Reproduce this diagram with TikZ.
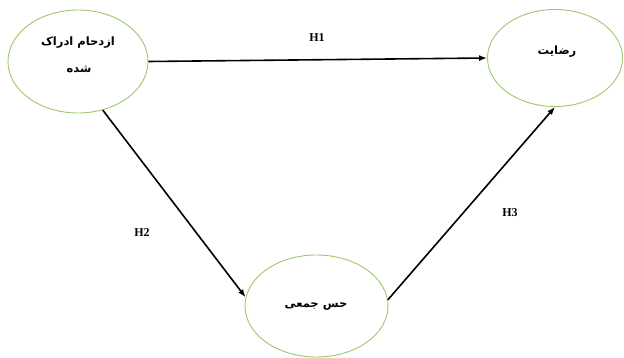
\documentclass[tikz,border=0pt]{standalone}
\usepackage{fontspec}
\setmainfont{Liberation Serif}
\newfontfamily\farsifont[Script=Arabic]{DejaVu Sans}
\TeXXeTstate=1
\usetikzlibrary{shapes.geometric,arrows.meta}
\definecolor{ellgreen}{RGB}{155,200,110}
\tikzset{
  construct/.style={ellipse,draw=ellgreen,line width=0.9pt,inner sep=0pt},
  fatext/.style={font=\farsifont\bfseries\fontsize{11.5}{13}\selectfont,inner sep=0pt},
  hlabel/.style={font=\bfseries\fontsize{12}{14}\selectfont,inner sep=0pt},
  arr/.style={line width=1.6pt,-{Latex[length=8pt,width=6pt]}}
}
\begin{document}
\begin{tikzpicture}[x=1pt,y=-1pt]
\useasboundingbox (0,0) rectangle (624,358);
\node[construct,minimum width=140pt,minimum height=103pt] (e1) at (78,61.5) {};
\node[construct,minimum width=135pt,minimum height=97pt] (e2) at (555,58) {};
\node[construct,minimum width=143pt,minimum height=102pt] (e3) at (316.5,306) {};
\node[fatext] (t1a) at (78,43) {\beginR ازدحام ادراک\endR};
\node[fatext] (t1b) at (79,69) {\beginR شده\endR};
\node[fatext] (t2) at (557,52) {\beginR رضایت\endR};
\node[fatext] (t3) at (316,307) {\beginR حس جمعی\endR};
\draw[arr] (e1.east) -- (e2.west);
\draw[arr] (e1.297) -- (e3.173);
\draw[arr] (e3.5) -- (e2.south);
\node[hlabel] (h1) at (317,38) {H1};
\node[hlabel] (h2) at (142,233) {H2};
\node[hlabel] (h3) at (510,213) {H3};
\end{tikzpicture}
\end{document}
